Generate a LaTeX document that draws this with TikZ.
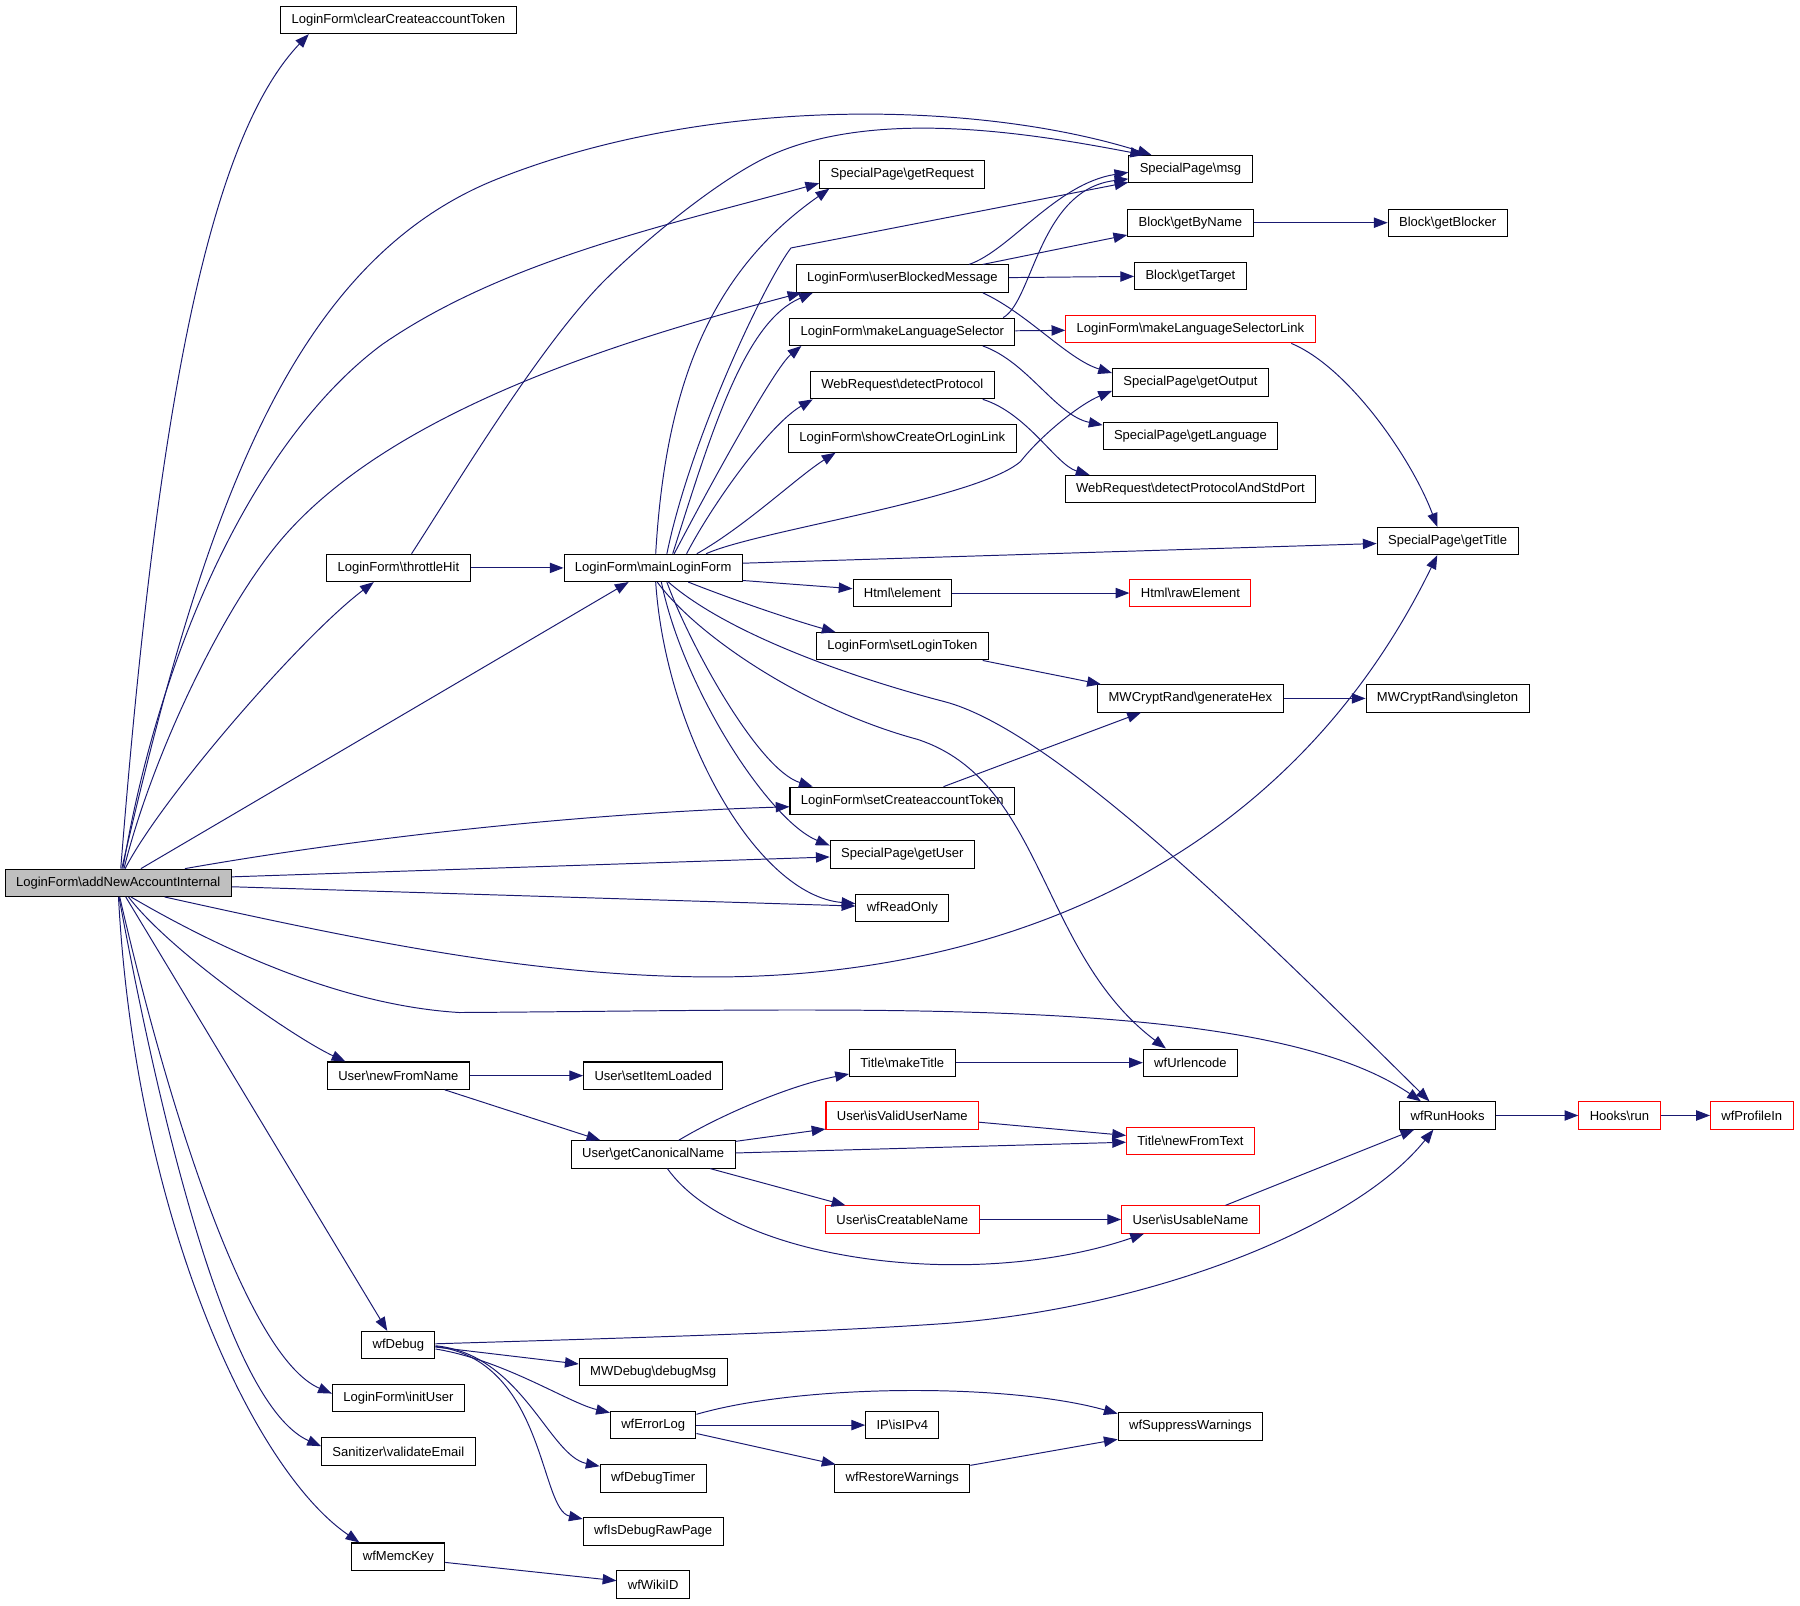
\documentclass[tikz,border=0pt]{standalone}
\usepackage{fontspec}
\setmainfont{Liberation Sans}
\usetikzlibrary{arrows.meta}
\definecolor{edgeblue}{HTML}{191970}
\definecolor{rootgray}{HTML}{BFBFBF}
\newcommand{\bsl}{\textbackslash}
\tikzset{
	fn/.style={draw=black, line width=0.9pt, fill=white, inner xsep=9.5pt, inner ysep=0pt,
			minimum height=23.8pt, font=\fontsize{11.35}{13}\selectfont},
	fnred/.style={fn, draw=red},
	call/.style={draw=edgeblue, line width=0.85pt, -{Triangle[length=12pt,width=9pt]}}
}
\begin{document}
\begin{tikzpicture}[x=1pt, y=-1pt]
	\useasboundingbox (0,0) rectangle (1568,1398.2);
	% column 1
	\node[fn, fill=rootgray] (ani) at (103,769) {LoginForm\bsl addNewAccountInternal};
	% column 2
	\node[fn] (ccat) at (347,17.4) {LoginForm\bsl clearCreateaccountToken};
	\node[fn] (throttleHit) at (347,494.7) {LoginForm\bsl throttleHit};
	\node[fn] (newFromName) at (347,937) {User\bsl newFromName};
	\node[fn] (wfDebug) at (347,1171.7) {wfDebug};
	\node[fn] (initUser) at (347,1218) {LoginForm\bsl initUser};
	\node[fn] (validateEmail) at (347,1264.5) {Sanitizer\bsl validateEmail};
	\node[fn] (wfMemcKey) at (347,1356) {wfMemcKey};
	% column 3
	\node[fn] (mLF) at (569,494.7) {LoginForm\bsl mainLoginForm};
	\node[fn] (setItemLoaded) at (569,937) {User\bsl setItemLoaded};
	\node[fn] (getCanon) at (569,1005.6) {User\bsl getCanonicalName};
	\node[fn] (debugMsg) at (569,1195) {MWDebug\bsl debugMsg};
	\node[fn] (wfErrorLog) at (569,1241.4) {wfErrorLog};
	\node[fn] (wfDebugTimer) at (569,1288) {wfDebugTimer};
	\node[fn] (wfIsDebugRaw) at (569,1334) {wfIsDebugRawPage};
	\node[fn] (wfWikiID) at (569,1380.3) {wfWikiID};
	% column 4
	\node[fn] (getRequest) at (786,152) {SpecialPage\bsl getRequest};
	\node[fn] (uBM) at (786,242.7) {LoginForm\bsl userBlockedMessage};
	\node[fn] (mls) at (786,289) {LoginForm\bsl makeLanguageSelector};
	\node[fn] (detectProtocol) at (786,335.5) {WebRequest\bsl detectProtocol};
	\node[fn] (showCreate) at (786,382) {LoginForm\bsl showCreateOrLoginLink};
	\node[fn] (element) at (786,516.6) {Html\bsl element};
	\node[fn] (setLoginToken) at (786,563) {LoginForm\bsl setLoginToken};
	\node[fn] (setCAT) at (786,697.6) {LoginForm\bsl setCreateaccountToken};
	\node[fn] (getUser) at (786,744.3) {SpecialPage\bsl getUser};
	\node[fn] (wfReadOnly) at (786,790.7) {wfReadOnly};
	\node[fn] (makeTitle) at (786,925.7) {Title\bsl makeTitle};
	\node[fnred] (isValid) at (786,971.7) {User\bsl isValidUserName};
	\node[fnred] (isCreatable) at (786,1062.3) {User\bsl isCreatableName};
	\node[fn] (isIPv4) at (786,1241.4) {IP\bsl isIPv4};
	\node[fn] (wfRestore) at (786,1288) {wfRestoreWarnings};
	% column 5
	\node[fn] (msg) at (1037,147.3) {SpecialPage\bsl msg};
	\node[fn] (getByName) at (1037,194) {Block\bsl getByName};
	\node[fn] (getTarget) at (1037,240.3) {Block\bsl getTarget};
	\node[fnred] (mlsLink) at (1037,286.8) {LoginForm\bsl makeLanguageSelectorLink};
	\node[fn] (getOutput) at (1037,333.3) {SpecialPage\bsl getOutput};
	\node[fn] (getLanguage) at (1037,379.7) {SpecialPage\bsl getLanguage};
	\node[fn] (dpasp) at (1037,426) {WebRequest\bsl detectProtocolAndStdPort};
	\node[fnred] (rawElement) at (1037,516.6) {Html\bsl rawElement};
	\node[fn] (generateHex) at (1037,608.4) {MWCryptRand\bsl generateHex};
	\node[fn] (wfUrlencode) at (1037,925.7) {wfUrlencode};
	\node[fnred] (newFromText) at (1037,994) {Title\bsl newFromText};
	\node[fnred] (isUsable) at (1037,1062.3) {User\bsl isUsableName};
	\node[fn] (wfSuppress) at (1037,1242.6) {wfSuppressWarnings};
	% columns 6 to 8
	\node[fn] (getBlocker) at (1261,194) {Block\bsl getBlocker};
	\node[fn] (getTitle) at (1261,471.3) {SpecialPage\bsl getTitle};
	\node[fn] (singleton) at (1261,608.4) {MWCryptRand\bsl singleton};
	\node[fn] (wfRunHooks) at (1261,971.7) {wfRunHooks};
	\node[fnred] (hooksRun) at (1410.7,971.7) {Hooks\bsl run};
	\node[fnred] (wfProfileIn) at (1526,971.7) {wfProfileIn};

	% calls of addNewAccountInternal
	\draw[call] (ani.80) .. controls (135,380) and (178,125) .. (ccat.189);
	\draw[call] (ani.76) .. controls (174,464) and (247,230) .. (433,156) .. controls (619,82) and (854,88) .. (msg.160);
	\draw[call] (ani.72) .. controls (140,560) and (225,380) .. (333,300) .. controls (440,226) and (586,195) .. (getRequest.186);
	\draw[call] (ani.68) .. controls (132,660) and (193,531) .. (245,470) .. controls (342,356) and (547,295) .. (uBM.188);
	\draw[call] (ani.64) .. controls (140,696) and (262,555) .. (throttleHit.210);
	\draw[call] (ani.32) -- (mLF.210);
	\draw[call] (ani.12) .. controls (330,727) and (520,708) .. (setCAT.183);
	\draw[call] (ani.3) -- (getUser.182);
	\draw[call] (ani.-2) -- (wfReadOnly.178);
	\draw[call] (ani.-17) .. controls (309,818) and (463,851) .. (622,851) .. controls (870,851) and (1120,754) .. (getTitle.234);
	\draw[call] (ani.-48) .. controls (199,831) and (302,876) .. (400,882) .. controls (750,880) and (1100,865) .. (wfRunHooks.152);
	\draw[call] (ani.-54) .. controls (149,830) and (258,905) .. (newFromName.165);
	\draw[call] (ani.-62) -- (wfDebug.128);
	\draw[call] (ani.-84) .. controls (149,976) and (217,1183) .. (initUser.176);
	\draw[call] (ani.-87) .. controls (149,1026) and (206,1227) .. (validateEmail.176);
	\draw[call] (ani.-89) .. controls (118,1060) and (220,1280) .. (wfMemcKey.160);

	\draw[call] (throttleHit.47) .. controls (402,415) and (467,307) .. (522,249) .. controls (557,213) and (627,155) .. (672,135) .. controls (764,94) and (898,116) .. (msg.163);
	\draw[call] (throttleHit) -- (mLF);

	% calls of mainLoginForm
	\draw[call] (mLF.80) .. controls (580,330) and (622,235) .. (getRequest.191);
	\draw[call] (mLF.46) .. controls (601,384) and (665,248) .. (689,216) -- (msg.192);
	\draw[call] (mLF.36) .. controls (622,368) and (650,280) .. (uBM.189);
	\draw[call] (mLF.34) .. controls (620,420) and (675,320) .. (mls.188);
	\draw[call] (mLF.23) .. controls (620,440) and (670,370) .. (detectProtocol.189);
	\draw[call] (mLF.18) .. controls (650,458) and (695,415) .. (showCreate.192);
	\draw[call] (mLF.15) .. controls (660,462) and (851,435) .. (889,402) .. controls (908,378) and (941,352) .. (getOutput.186);
	\draw[call] (mLF.3) -- (getTitle.182);
	\draw[call] (mLF.-8) -- (element.175);
	\draw[call] (mLF.-22) .. controls (640,523) and (690,540) .. (setLoginToken.168);
	\draw[call] (mLF.-46) .. controls (600,560) and (660,670) .. (setCAT.171);
	\draw[call] (mLF.-60) .. controls (595,600) and (670,715) .. (getUser.173);
	\draw[call] (mLF.-80) .. controls (580,640) and (660,780) .. (wfReadOnly.175);
	\draw[call] (mLF.-74) .. controls (608,555) and (703,618) .. (799,644) .. controls (910,680) and (905,830) .. (wfUrlencode.150);
	\draw[call] (mLF.-43) .. controls (635,553) and (745,591) .. (822,611) .. controls (920,636) and (1103,819) .. (wfRunHooks.142);

	\draw[call] (uBM.12) .. controls (880,218) and (920,160) .. (msg.183);
	\draw[call] (uBM.10) -- (getByName.191);
	\draw[call] (uBM) -- (getTarget);
	\draw[call] (uBM.-10) .. controls (895,273) and (930,313) .. (getOutput.173);
	\draw[call] (mls.8) .. controls (900,262) and (905,165) .. (msg.189);
	\draw[call] (mls) -- (mlsLink);
	\draw[call] (mls.-10) .. controls (895,315) and (920,362) .. (getLanguage.173);
	\draw[call] (detectProtocol.-10) .. controls (895,360) and (920,405) .. (dpasp.172);
	\draw[call] (getByName) -- (getBlocker);
	\draw[call] (mlsLink.-8) .. controls (1175,320) and (1230,400) .. (getTitle.126);
	\draw[call] (element) -- (rawElement);
	\draw[call] (setLoginToken.-10) -- (generateHex.171);
	\draw[call] (setCAT.19) -- (generateHex.196);
	\draw[call] (generateHex) -- (singleton);

	% user names
	\draw[call] (newFromName) -- (setItemLoaded);
	\draw[call] (newFromName.-17) -- (getCanon.165);
	\draw[call] (makeTitle) -- (wfUrlencode);
	\draw[call] (getCanon.29) .. controls (630,970) and (690,945) .. (makeTitle.192);
	\draw[call] (getCanon.9) -- (isValid.190);
	\draw[call] (getCanon.1) -- (newFromText.181);
	\draw[call] (getCanon.-14) -- (isCreatable.166);
	\draw[call] (getCanon.-45) .. controls (640,1100) and (850,1125) .. (isUsable.197);
	\draw[call] (isValid.-5) -- (newFromText.175);
	\draw[call] (isCreatable) -- (isUsable);
	\draw[call] (isUsable.22) -- (wfRunHooks.203);
	\draw[call] (wfRunHooks) -- (hooksRun);
	\draw[call] (hooksRun) -- (wfProfileIn);

	% debugging
	\draw[call] (wfDebug.2) .. controls (600,1164) and (720,1160) .. (822,1153) .. controls (1000,1140) and (1180,1070) .. (wfRunHooks.225);
	\draw[call] (wfDebug.-3) -- (debugMsg.174);
	\draw[call] (wfDebug.-6) .. controls (440,1185) and (495,1222) .. (wfErrorLog.164);
	\draw[call] (wfDebug.-1) .. controls (455,1180) and (478,1268) .. (wfDebugTimer.167);
	\draw[call] (wfDebug.-2) .. controls (475,1185) and (470,1315) .. (wfIsDebugRaw.170);
	\draw[call] (wfErrorLog.14) .. controls (700,1205) and (880,1205) .. (wfSuppress.170);
	\draw[call] (wfErrorLog) -- (isIPv4);
	\draw[call] (wfErrorLog.-11) -- (wfRestore.168);
	\draw[call] (wfRestore.11) -- (wfSuppress.190);
	\draw[call] (wfMemcKey.-7) -- (wfWikiID.174);
\end{tikzpicture}
\end{document}
